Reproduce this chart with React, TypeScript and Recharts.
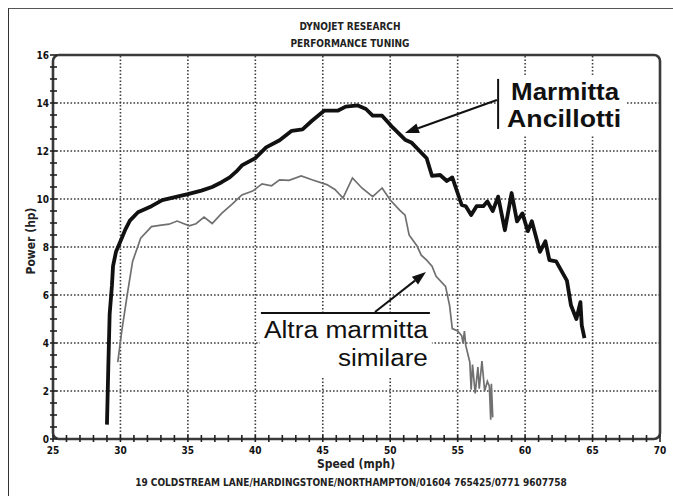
import { LineChart, Line, XAxis, YAxis, ReferenceLine, ReferenceArea } from 'recharts';

// Marmitta Ancillotti (thick black trace)
const ancSpeed = [
  29.0, 29.1, 29.2, 29.37, 29.45, 29.67, 29.97, 30.34, 30.7, 31.3, 32.3, 33.1, 34.2, 35.0, 36.0, 36.8, 37.5,
  38.1, 38.6, 39.0, 40.0, 40.8, 41.8, 42.7, 43.5, 44.2, 45.1, 46.1, 46.7, 47.6, 48.2, 48.7, 49.4, 50.2, 51.1,
  51.6, 52.7, 53.1, 53.7, 54.2, 54.6, 55.3, 55.6, 56.0, 56.4, 56.9, 57.2, 57.6, 58.0, 58.5, 59.0, 59.4, 59.8,
  60.2, 60.5, 61.1, 61.5, 61.8, 62.3, 63.1, 63.4, 63.8, 64.1, 64.2, 64.4,
];
const ancPower = [
  0.6, 3.0, 5.2, 6.4, 7.2, 7.8, 8.2, 8.7, 9.1, 9.45, 9.7, 9.95, 10.1, 10.2, 10.35, 10.5, 10.7,
  10.9, 11.15, 11.4, 11.7, 12.15, 12.45, 12.84, 12.9, 13.26, 13.68, 13.68, 13.85, 13.9, 13.75, 13.47, 13.47, 12.97, 12.47,
  12.34, 11.7, 10.96, 11.0, 10.75, 10.9, 9.75, 9.7, 9.33, 9.7, 9.7, 9.9, 9.5, 10.1, 8.7, 10.25, 9.07, 9.4,
  8.66, 9.07, 7.8, 8.24, 7.45, 7.4, 6.6, 5.57, 5.0, 5.7, 4.73, 4.2,
];

// Altra marmitta similare (thin grey trace)
const altSpeed = [
  29.8, 30.1, 30.5, 30.9, 31.5, 32.3, 32.9, 33.6, 34.2, 35.1, 35.6, 36.2, 36.8, 37.5, 38.3, 39.0, 39.8, 40.5,
  41.2, 41.8, 42.5, 43.4, 44.2, 45.3, 45.9, 46.5, 47.2, 47.9, 48.7, 49.4, 50.0, 50.7, 51.1, 51.4, 52.0, 52.3,
  52.7, 53.1, 53.4, 54.1, 54.4, 54.6, 55.0, 55.3, 55.4, 55.5, 55.6, 55.9, 56.0, 56.1, 56.3, 56.5, 56.6, 56.8,
  57.0, 57.2, 57.35, 57.45, 57.5, 57.6,
];
const altPower = [
  3.2, 4.5, 6.0, 7.4, 8.37, 8.85, 8.9, 8.95, 9.08, 8.88, 8.97, 9.25, 8.98, 9.4, 9.8, 10.17, 10.33, 10.63,
  10.55, 10.8, 10.78, 10.96, 10.8, 10.6, 10.4, 10.04, 10.88, 10.46, 10.1, 10.46, 9.96, 9.54, 9.33, 8.5, 8.03, 7.66,
  7.45, 7.2, 6.78, 6.36, 5.57, 4.6, 4.5, 4.3, 4.0, 4.5, 3.9, 3.2, 2.05, 3.1, 1.9, 3.0, 2.1, 3.25,
  2.0, 2.4, 2.2, 0.8, 2.3, 0.9,
];

const speedTicks = [
  25, 26, 27, 28, 29, 30, 31, 32, 33, 34, 35, 36, 37, 38, 39, 40, 41, 42, 43, 44, 45, 46, 47,
  48, 49, 50, 51, 52, 53, 54, 55, 56, 57, 58, 59, 60, 61, 62, 63, 64, 65, 66, 67, 68, 69, 70,
];
const powerTicks = [
  0, 0.5, 1, 1.5, 2, 2.5, 3, 3.5, 4, 4.5, 5, 5.5, 6, 6.5, 7, 7.5, 8, 8.5, 9, 9.5, 10, 10.5, 11, 11.5,
  12, 12.5, 13, 13.5, 14, 14.5, 15, 15.5, 16,
];
const gridSpeeds = [30, 35, 40, 45, 50, 55, 60, 65];
const gridPowers = [2, 4, 6, 8, 10, 12, 14];

const ancillotti = ancSpeed.map((mph, i) => ({ mph, hp: ancPower[i] }));
const altra = altSpeed.map((mph, i) => ({ mph, hp: altPower[i] }));

const labelFont = "'DejaVu Sans Condensed', 'Liberation Sans Narrow', 'DejaVu Sans', sans-serif";
const noteFont = "'Liberation Sans', Arial, sans-serif";

const XTick = (props: any) => {
  const { x, y, payload } = props;
  const v = payload.value;
  return (
    <g>
      <line x1={x} x2={x} y1={y - 4} y2={y + 3} stroke="#222" strokeWidth={1.6} />
      {v % 5 === 0 && (
        <text x={x} y={y + 15} textAnchor="middle" fontFamily={labelFont} fontWeight="bold" fontSize={10} fill="#111">
          {v}
        </text>
      )}
    </g>
  );
};

const YTick = (props: any) => {
  const { x, y, payload } = props;
  const v = payload.value;
  return (
    <g>
      <line x1={x - 3} x2={x + 4} y1={y} y2={y} stroke="#222" strokeWidth={1.6} />
      {v % 2 === 0 && (
        <text x={x - 4} y={y + 3.5} textAnchor="end" fontFamily={labelFont} fontWeight="bold" fontSize={10} fill="#111">
          {v}
        </text>
      )}
    </g>
  );
};

const Arrow = (props: any) => {
  const { x1, y1, x2, y2 } = props;
  const a = Math.atan2(y2 - y1, x2 - x1);
  const len = 14;
  const w = 5;
  const bx = x2 - len * Math.cos(a);
  const by = y2 - len * Math.sin(a);
  const px = -Math.sin(a) * w;
  const py = Math.cos(a) * w;
  return (
    <g>
      <line x1={x1} y1={y1} x2={bx} y2={by} stroke="#111" strokeWidth={2} />
      <polygon points={`${x2},${y2} ${bx + px},${by + py} ${bx - px},${by - py}`} fill="#111" />
    </g>
  );
};

const AncillottiNote = (props: any) => {
  const { x, y, width, height } = props;
  return (
    <g>
      <rect x={x} y={y} width={width} height={height} fill="#fff" />
      <line x1={x + 2} x2={x + 2} y1={y + 4} y2={y + 54} stroke="#111" strokeWidth={2} />
      <text x={x + 15} y={y + 25} fontFamily={noteFont} fontWeight="bold" fontSize={23} fill="#111" textLength={108} lengthAdjust="spacingAndGlyphs">
        Marmitta
      </text>
      <text x={x + 11} y={y + 52} fontFamily={noteFont} fontWeight="bold" fontSize={23} fill="#111" textLength={114} lengthAdjust="spacingAndGlyphs">
        Ancillotti
      </text>
    </g>
  );
};

const AltraNote = (props: any) => {
  const { x, y, width, height } = props;
  return (
    <g>
      <rect x={x} y={y} width={width} height={height} fill="#fff" />
      <line x1={x + 1} x2={x + width - 2} y1={y} y2={y} stroke="#111" strokeWidth={2} />
      <text x={x + 4} y={y + 25} fontFamily={noteFont} fontSize={23} fill="#111" textLength={164} lengthAdjust="spacingAndGlyphs">
        Altra marmitta
      </text>
      <text x={x + 78} y={y + 53} fontFamily={noteFont} fontSize={23} fill="#111" textLength={90} lengthAdjust="spacingAndGlyphs">
        similare
      </text>
    </g>
  );
};

const Frame = (props: any) => {
  const { x, y, width, height } = props;
  return <rect x={x} y={y} width={width} height={height} rx={6} ry={6} fill="none" stroke="#3a3a3a" strokeWidth={2.6} />;
};

export default function App() {
  return (
    <div style={{ position: 'absolute', left: 0, top: 0, width: 673, height: 496, background: '#fff', overflow: 'hidden' }}>
      <div
        style={{
          position: 'absolute',
          left: 8,
          top: 8,
          width: 665,
          height: 488,
          borderLeft: '1.5px solid #333',
          borderTop: '1.5px solid #555',
        }}
      />
      <div style={{ position: 'absolute', left: 0, width: 673, top: 0 }}>
        <LineChart width={673} height={496} margin={{ top: 55, right: 13, bottom: 0, left: 0 }}>
          <XAxis
            dataKey="mph"
            type="number"
            domain={[25, 70]}
            ticks={speedTicks}
            allowDataOverflow
            axisLine={false}
            tickLine={false}
            tickSize={0}
            tickMargin={0}
            height={57}
            interval={0}
            tick={<XTick />}
          />
          <YAxis
            type="number"
            domain={[0, 16]}
            ticks={powerTicks}
            allowDataOverflow
            axisLine={false}
            tickLine={false}
            tickSize={0}
            tickMargin={0}
            width={53}
            interval={0}
            tick={<YTick />}
          />
          {gridSpeeds.map((v) => (
            <ReferenceLine key={`gx${v}`} x={v} stroke="#3d3d3d" strokeWidth={1.6} strokeDasharray="1.6 1.9" zIndex={-60} />
          ))}
          {gridPowers.map((v) => (
            <ReferenceLine key={`gy${v}`} y={v} stroke="#3d3d3d" strokeWidth={1.6} strokeDasharray="1.6 1.9" zIndex={-60} />
          ))}
          <ReferenceArea x1={57.85} x2={67.45} y1={12.67} y2={15.17} shape={<AncillottiNote />} zIndex={-40} />
          <ReferenceArea x1={40.34} x2={53.09} y1={2.58} y2={5.25} shape={<AltraNote />} zIndex={-40} />
          <ReferenceArea x1={25} x2={70} y1={0} y2={16} shape={<Frame />} zIndex={-30} />
          <Line
            data={altra}
            dataKey="hp"
            type="linear"
            stroke="#707070"
            strokeWidth={1.7}
            dot={false}
            isAnimationActive={false}
          />
          <Line
            data={ancillotti}
            dataKey="hp"
            type="linear"
            stroke="#111"
            strokeWidth={3.8}
            strokeLinejoin="round"
            dot={false}
            isAnimationActive={false}
          />
          <ReferenceLine
            segment={[
              { x: 57.91, y: 14.125 },
              { x: 51.09, y: 12.75 },
            ]}
            shape={<Arrow />}
          />
          <ReferenceLine
            segment={[
              { x: 48.87, y: 5.29 },
              { x: 52.65, y: 6.96 },
            ]}
            shape={<Arrow />}
          />
        </LineChart>
      </div>
      <div
        style={{
          position: 'absolute',
          left: 0,
          width: 700,
          top: 18,
          textAlign: 'center',
          fontFamily: labelFont,
          fontWeight: 'bold',
          fontSize: 10,
          lineHeight: '17px',
          color: '#222',
        }}
      >
        <div>DYNOJET RESEARCH</div>
        <div>PERFORMANCE TUNING</div>
      </div>
      <div
        style={{
          position: 'absolute',
          left: 0,
          width: 712,
          top: 457,
          textAlign: 'center',
          fontFamily: labelFont,
          fontWeight: 'bold',
          fontSize: 12,
          color: '#222',
        }}
      >
        Speed (mph)
      </div>
      <div
        style={{
          position: 'absolute',
          left: 0,
          width: 702,
          top: 477,
          textAlign: 'center',
          fontFamily: labelFont,
          fontWeight: 'bold',
          fontSize: 10,
          color: '#222',
        }}
      >
        19 COLDSTREAM LANE/HARDINGSTONE/NORTHAMPTON/01604 765425/0771 9607758
      </div>
      <div
        style={{
          position: 'absolute',
          left: 31,
          top: 241,
          transform: 'translate(-50%, -50%) rotate(-90deg)',
          whiteSpace: 'nowrap',
          fontFamily: labelFont,
          fontWeight: 'bold',
          fontSize: 12,
          color: '#222',
        }}
      >
        Power (hp)
      </div>
    </div>
  );
}
